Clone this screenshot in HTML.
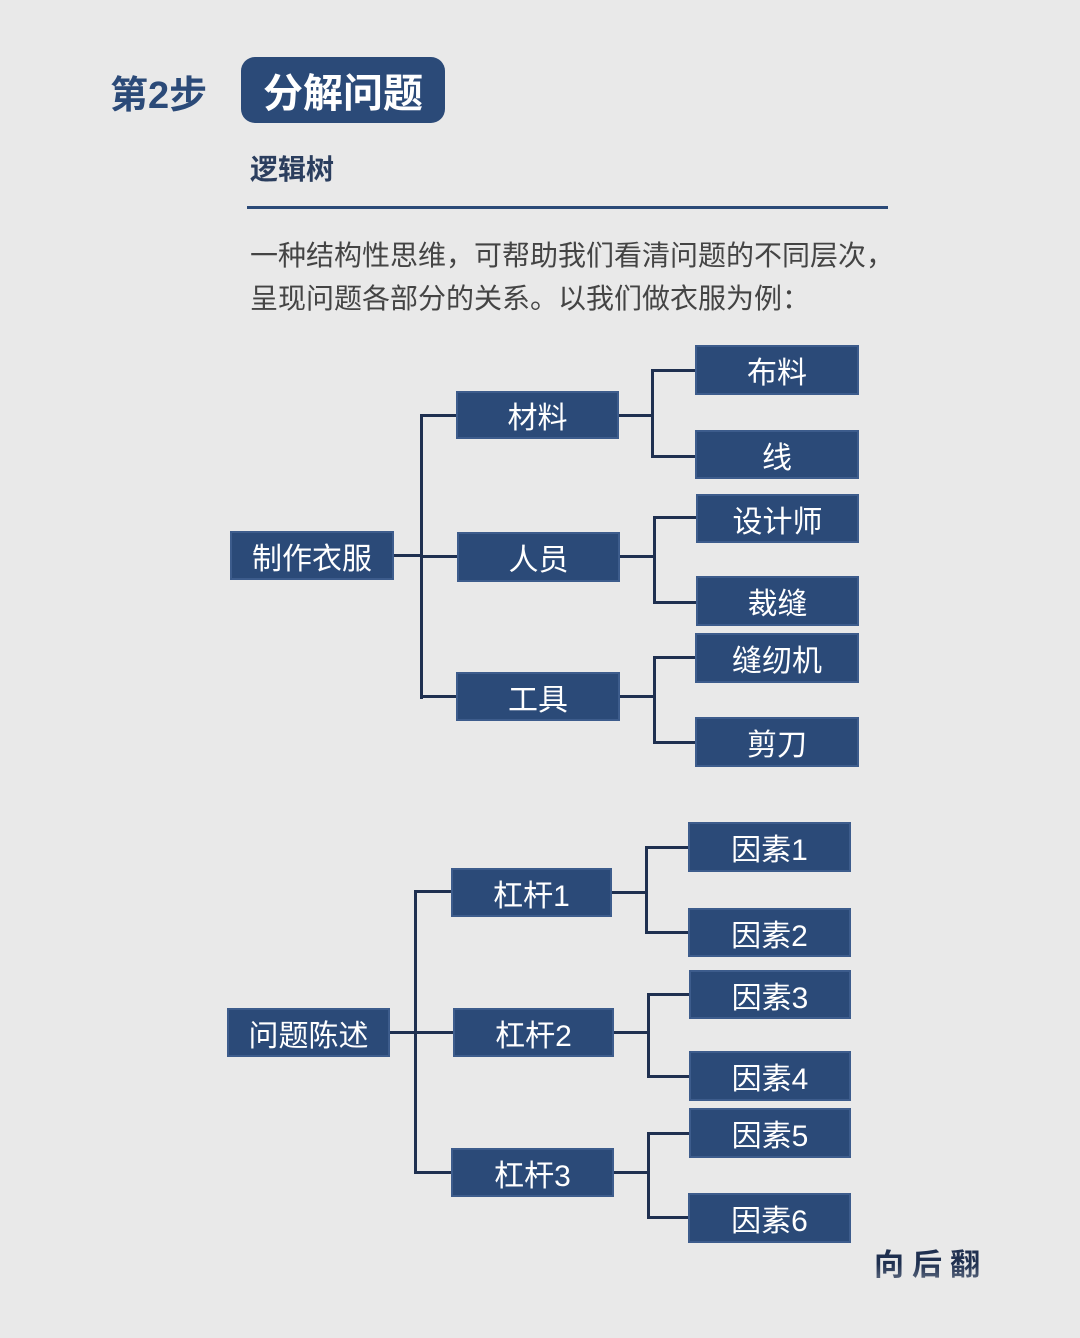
<!DOCTYPE html>
<html><head><meta charset="utf-8"><style>
body{margin:0;width:1080px;height:1338px;background:#e9e9e9;position:relative;overflow:hidden;font-family:"Liberation Sans","Noto Sans CJK SC",sans-serif}
.a{position:absolute}
.b{position:absolute;background:#2b4a78;color:#fff;font-size:30px;display:flex;align-items:center;justify-content:center;box-shadow:0 0 0 2px #3d5c8c}
.h{position:absolute;height:3px;background:#1f3050}
.v{position:absolute;width:3px;background:#1f3050}
</style></head><body>
<div class="a" style="left:110px;top:64px;font-size:38px;font-weight:bold;color:#2b4a78">第2步</div>
<div class="a" style="left:241px;top:57px;width:204px;height:66px;border-radius:14px;background:#2b4a78;color:#fff;font-size:40px;font-weight:bold;display:flex;align-items:center;justify-content:center">分解问题</div>
<div class="a" style="left:250px;top:148px;font-size:28px;font-weight:bold;color:#2b3e5e">逻辑树</div>
<div class="a" style="left:247px;top:206px;width:641px;height:3px;background:#2b4a78"></div>
<div class="a" style="left:250px;top:234px;font-size:28px;color:#444;line-height:43px">一种结构性思维，可帮助我们看清问题的不同层次，<br>呈现问题各部分的关系。以我们做衣服为例：</div>

<!-- tree 1 -->
<div class="h" style="left:392px;top:554px;width:30px"></div>
<div class="v" style="left:420px;top:414px;height:285px"></div>
<div class="h" style="left:420px;top:414px;width:38px"></div>
<div class="h" style="left:420px;top:555px;width:38px"></div>
<div class="h" style="left:420px;top:695px;width:38px"></div>
<div class="h" style="left:617px;top:414px;width:36px"></div>
<div class="v" style="left:651px;top:369px;height:89px"></div>
<div class="h" style="left:651px;top:369px;width:46px"></div>
<div class="h" style="left:651px;top:455px;width:46px"></div>
<div class="h" style="left:618px;top:555px;width:36px"></div>
<div class="v" style="left:653px;top:516px;height:88px"></div>
<div class="h" style="left:653px;top:516px;width:45px"></div>
<div class="h" style="left:653px;top:601px;width:45px"></div>
<div class="h" style="left:618px;top:695px;width:36px"></div>
<div class="v" style="left:653px;top:656px;height:88px"></div>
<div class="h" style="left:653px;top:656px;width:44px"></div>
<div class="h" style="left:653px;top:741px;width:44px"></div>
<div class="b" style="left:232px;top:533px;width:160px;height:45px">制作衣服</div>
<div class="b" style="left:458px;top:393px;width:159px;height:44px">材料</div>
<div class="b" style="left:459px;top:534px;width:159px;height:46px">人员</div>
<div class="b" style="left:458px;top:674px;width:160px;height:45px">工具</div>
<div class="b" style="left:697px;top:347px;width:160px;height:46px">布料</div>
<div class="b" style="left:697px;top:432px;width:160px;height:45px">线</div>
<div class="b" style="left:698px;top:496px;width:159px;height:45px">设计师</div>
<div class="b" style="left:698px;top:578px;width:159px;height:46px">裁缝</div>
<div class="b" style="left:697px;top:635px;width:160px;height:46px">缝纫机</div>
<div class="b" style="left:697px;top:719px;width:160px;height:46px">剪刀</div>

<!-- tree 2 -->
<div class="h" style="left:388px;top:1031px;width:28px"></div>
<div class="v" style="left:414px;top:890px;height:284px"></div>
<div class="h" style="left:414px;top:890px;width:40px"></div>
<div class="h" style="left:414px;top:1031px;width:41px"></div>
<div class="h" style="left:414px;top:1171px;width:40px"></div>
<div class="h" style="left:610px;top:891px;width:37px"></div>
<div class="v" style="left:645px;top:846px;height:88px"></div>
<div class="h" style="left:645px;top:846px;width:45px"></div>
<div class="h" style="left:645px;top:931px;width:45px"></div>
<div class="h" style="left:612px;top:1031px;width:37px"></div>
<div class="v" style="left:647px;top:993px;height:85px"></div>
<div class="h" style="left:647px;top:993px;width:44px"></div>
<div class="h" style="left:647px;top:1075px;width:44px"></div>
<div class="h" style="left:612px;top:1171px;width:37px"></div>
<div class="v" style="left:647px;top:1132px;height:87px"></div>
<div class="h" style="left:647px;top:1132px;width:44px"></div>
<div class="h" style="left:647px;top:1216px;width:44px"></div>
<div class="b" style="left:229px;top:1010px;width:159px;height:45px">问题陈述</div>
<div class="b" style="left:453px;top:870px;width:157px;height:45px">杠杆1</div>
<div class="b" style="left:455px;top:1010px;width:157px;height:45px">杠杆2</div>
<div class="b" style="left:453px;top:1150px;width:159px;height:45px">杠杆3</div>
<div class="b" style="left:690px;top:824px;width:159px;height:46px">因素1</div>
<div class="b" style="left:690px;top:910px;width:159px;height:45px">因素2</div>
<div class="b" style="left:691px;top:972px;width:158px;height:45px">因素3</div>
<div class="b" style="left:691px;top:1053px;width:158px;height:46px">因素4</div>
<div class="b" style="left:691px;top:1110px;width:158px;height:46px">因素5</div>
<div class="b" style="left:690px;top:1195px;width:159px;height:46px">因素6</div>

<div class="a" style="left:874px;top:1240px;font-size:30px;font-weight:bold;letter-spacing:8px;background:linear-gradient(#1f3050 30%,rgba(233,233,233,0));-webkit-background-clip:text;background-clip:text;color:transparent;height:80px">向后翻</div>
</body></html>
